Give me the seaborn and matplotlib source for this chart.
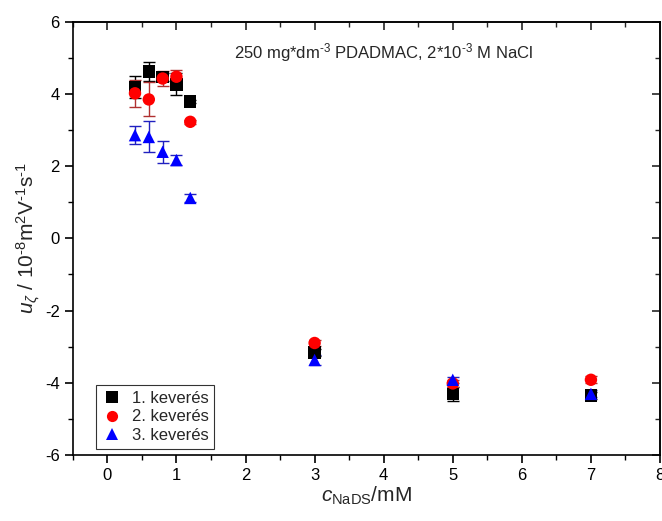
import matplotlib
matplotlib.use("Agg")
import matplotlib.pyplot as plt
import seaborn as sns
import pandas as pd
import numpy as np

x_vals = [0.4, 0.6, 0.8, 1.0, 1.2, 3.0, 5.0, 7.0]
s1_y = [4.2, 4.62, 4.47, 4.27, 3.79, -3.16, -4.31, -4.35]
s1_err = [0.3, 0.27, 0.1, 0.3, 0.05, 0.1, 0.2, 0.1]
s2_y = [4.02, 3.85, 4.43, 4.48, 3.23, -2.9, -4.02, -3.92]
s2_err = [0.37, 0.47, 0.2, 0.2, 0.05, 0.08, 0.1, 0.1]
s3_y = [2.86, 2.81, 2.4, 2.17, 1.12, -3.37, -3.92, -4.31]
s3_err = [0.25, 0.43, 0.3, 0.15, 0.1, 0.15, 0.08, 0.1]
labels = ["1. keverés", "2. keverés", "3. keverés"]

sns.set_theme(style="white")
plt.rcParams['font.family'] = ['Liberation Sans', 'DejaVu Sans']
plt.rcParams['mathtext.fontset'] = 'custom'
plt.rcParams['mathtext.rm'] = 'Liberation Sans'
plt.rcParams['mathtext.it'] = 'Liberation Sans:italic'
plt.rcParams['mathtext.sf'] = 'Liberation Sans'
plt.rcParams['axes.unicode_minus'] = False

df = pd.DataFrame({
    "x": x_vals * 3,
    "y": s1_y + s2_y + s3_y,
    "err": s1_err + s2_err + s3_err,
    "series": [labels[0]] * 8 + [labels[1]] * 8 + [labels[2]] * 8,
})

colors = {labels[0]: "#000000", labels[1]: "#ff0000", labels[2]: "#0000ff"}
ecolors = {labels[0]: "#000000", labels[1]: "#b03030", labels[2]: "#2020c0"}
markers = {labels[0]: "s", labels[1]: "o", labels[2]: "^"}

fig = plt.figure(figsize=(6.62, 5.21), dpi=100)
ax = fig.add_axes([0.110, 0.127, 0.887, 0.831])

for lab in labels:
    d = df[df.series == lab]
    ax.errorbar(d.x, d.y, yerr=d.err, fmt="none", ecolor=ecolors[lab],
                elinewidth=1.0, capsize=4, capthick=1.0, zorder=2)

sns.scatterplot(data=df, x="x", y="y", hue="series", style="series",
                palette=colors, markers=markers, s=80, edgecolor="none",
                linewidth=0, ax=ax, zorder=3, legend=True)

ax.set_xlim(-0.5, 8)
ax.set_ylim(-6, 6)
ax.set_xticks(np.arange(0, 9, 1))
ax.set_yticks(np.arange(-6, 7, 2))
ax.set_xticks(np.arange(-0.5, 8.01, 0.5), minor=True)
ax.set_yticks(np.arange(-6, 6.01, 1), minor=True)

for sp in ax.spines.values():
    sp.set_color("black")
    sp.set_linewidth(1.2)

ax.tick_params(axis="both", which="both", direction="out", colors="black",
               labelsize=12, bottom=True, left=True, top=False, right=False)
ax.tick_params(which="major", length=6, width=1.2)
ax.tick_params(which="minor", length=3.5, width=1.0)

axt = ax.secondary_xaxis("top")
axt.set_xticks(np.arange(0, 9, 1))
axt.set_xticks(np.arange(-0.5, 8.01, 0.5), minor=True)
axt.tick_params(which="both", direction="in", labeltop=False)
axt.tick_params(which="major", length=6, width=1.2)
axt.tick_params(which="minor", length=3.5, width=1.0)
axr = ax.secondary_yaxis("right")
axr.set_yticks(np.arange(-6, 7, 2))
axr.set_yticks(np.arange(-6, 6.01, 1), minor=True)
axr.tick_params(which="both", direction="in", labelright=False)
axr.tick_params(which="major", length=6, width=1.2)
axr.tick_params(which="minor", length=3.5, width=1.0)
for a in (axt, axr):
    for sp in a.spines.values():
        sp.set_linewidth(1.2)

ax.set_xlabel(r"$c_{\mathrm{NaDS}}$/mM", fontsize=15, labelpad=1)
ax.set_ylabel(r"$u_{\zeta}$ / 10$^{\text{-8}}$m$^{2}$V$^{\text{-1}}$s$^{\text{-1}}$",
              fontsize=15, labelpad=2)

ax.text(0.53, 0.93, r"250 mg*dm$^{\text{-3}}$ PDADMAC, 2*10$^{\text{-3}}$ M NaCl",
        transform=ax.transAxes, ha="center", va="center", fontsize=12)

leg = ax.legend(loc="lower left", bbox_to_anchor=(0.025, -0.005), frameon=True,
                fancybox=False, edgecolor="black", fontsize=12, handletextpad=0.6,
                handlelength=1.2, borderpad=0.35, labelspacing=0.2, markerscale=0.9)
leg.get_frame().set_linewidth(0.8)

fig.savefig("out.png", dpi=100, facecolor="white")
